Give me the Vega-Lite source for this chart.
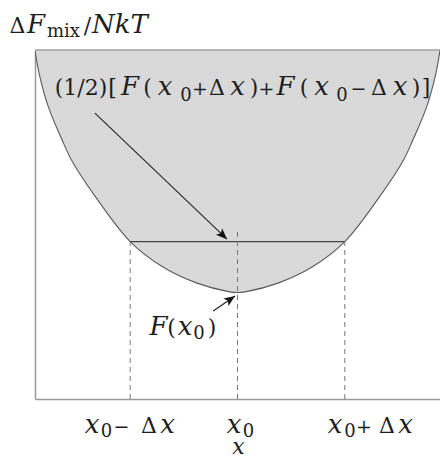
{
  "$schema": "https://vega.github.io/schema/vega-lite/v6.json",
  "width": 405,
  "height": 349,
  "autosize": "none",
  "padding": {"left": 35, "top": 50, "right": 0, "bottom": 61},
  "background": "white",
  "config": {
    "view": {"stroke": null},
    "font": "DejaVu Serif",
    "text": {"font": "DejaVu Serif", "color": "#1e1e1e", "align": "center", "baseline": "alphabetic"},
    "axis": {"ticks": false, "labels": false, "grid": false, "domainColor": "#9a9a9a", "domainWidth": 1.5}
  },
  "datasets": {
    "curve": [
      {"x": 0.000, "y": 1.000},
      {"x": 0.010, "y": 0.934},
      {"x": 0.033, "y": 0.837},
      {"x": 0.067, "y": 0.742},
      {"x": 0.090, "y": 0.685},
      {"x": 0.143, "y": 0.590},
      {"x": 0.235, "y": 0.451},
      {"x": 0.316, "y": 0.378},
      {"x": 0.400, "y": 0.332},
      {"x": 0.481, "y": 0.307},
      {"x": 0.500, "y": 0.305},
      {"x": 0.519, "y": 0.307},
      {"x": 0.600, "y": 0.332},
      {"x": 0.684, "y": 0.378},
      {"x": 0.765, "y": 0.451},
      {"x": 0.857, "y": 0.590},
      {"x": 0.910, "y": 0.685},
      {"x": 0.933, "y": 0.742},
      {"x": 0.967, "y": 0.837},
      {"x": 0.990, "y": 0.934},
      {"x": 1.000, "y": 1.000}
    ],
    "drops": [
      {"x": 0.235, "y": 0, "y2": 0.451},
      {"x": 0.500, "y": 0, "y2": 0.479},
      {"x": 0.765, "y": 0, "y2": 0.451}
    ],
    "arrows": [
      {"x": 0.148, "y": 0.819, "x2": 0.474, "y2": 0.458},
      {"x": 0.440, "y": 0.252, "x2": 0.494, "y2": 0.295}
    ],
    "italic": [
      {"x": 0.2346, "y": 0.8711, "t": "F"},
      {"x": 0.3210, "y": 0.8711, "t": "x"},
      {"x": 0.5000, "y": 0.8711, "t": "x"},
      {"x": 0.6185, "y": 0.8711, "t": "F"},
      {"x": 0.7074, "y": 0.8711, "t": "x"},
      {"x": 0.9012, "y": 0.8711, "t": "x"},
      {"x": 0.3049, "y": 0.1834, "t": "F"},
      {"x": 0.3704, "y": 0.1834, "t": "x"},
      {"x": 0.1407, "y": -0.0974, "t": "x"},
      {"x": 0.3272, "y": -0.0974, "t": "x"},
      {"x": 0.4914, "y": -0.0974, "t": "x"},
      {"x": 0.7407, "y": -0.0974, "t": "x"},
      {"x": 0.9148, "y": -0.0974, "t": "x"},
      {"x": 0.0025, "y": 1.0487, "t": "F"},
      {"x": 0.2099, "y": 1.0487, "t": "NkT"}
    ],
    "roman": [
      {"x": 0.1136, "y": 0.8711, "t": "(1/2)"},
      {"x": 0.1914, "y": 0.8711, "t": "["},
      {"x": 0.2778, "y": 0.8711, "t": "("},
      {"x": 0.4494, "y": 0.8711, "t": "Δ"},
      {"x": 0.5407, "y": 0.8711, "t": ")"},
      {"x": 0.6642, "y": 0.8711, "t": "("},
      {"x": 0.8494, "y": 0.8711, "t": "Δ"},
      {"x": 0.9407, "y": 0.8711, "t": ")"},
      {"x": 0.9654, "y": 0.8711, "t": "]"},
      {"x": 0.3370, "y": 0.1834, "t": "("},
      {"x": 0.4370, "y": 0.1834, "t": ")"},
      {"x": 0.2815, "y": -0.0974, "t": "Δ"},
      {"x": 0.8691, "y": -0.0974, "t": "Δ"},
      {"x": -0.0432, "y": 1.0487, "t": "Δ"},
      {"x": 0.1296, "y": 1.0487, "t": "/"}
    ],
    "operators": [
      {"x": 0.4074, "y": 0.8711, "t": "+"},
      {"x": 0.5716, "y": 0.8711, "t": "+"},
      {"x": 0.7988, "y": 0.8711, "t": "−"},
      {"x": 0.2136, "y": -0.0974, "t": "−"},
      {"x": 0.8123, "y": -0.0974, "t": "+"}
    ],
    "subscripts": [
      {"x": 0.3728, "y": 0.8539, "t": "0"},
      {"x": 0.7580, "y": 0.8539, "t": "0"},
      {"x": 0.4049, "y": 0.1719, "t": "0"},
      {"x": 0.1765, "y": -0.1089, "t": "0"},
      {"x": 0.5272, "y": -0.1089, "t": "0"},
      {"x": 0.7778, "y": -0.1089, "t": "0"},
      {"x": 0.0704, "y": 1.0372, "t": "mix"}
    ]
  },
  "encoding": {
    "x": {"field": "x", "type": "quantitative", "title": null,
          "scale": {"domain": [0, 1], "nice": false, "zero": false}},
    "y": {"field": "y", "type": "quantitative", "title": null,
          "scale": {"domain": [0, 1], "nice": false, "zero": false}}
  },
  "layer": [
    {
      "data": {"name": "curve"},
      "mark": {"type": "area", "interpolate": "catmull-rom", "color": "#d9d9d9", "clip": true},
      "encoding": {"y2": {"datum": 1}}
    },
    {
      "data": {"name": "curve"},
      "mark": {"type": "line", "interpolate": "catmull-rom", "color": "#5a5a5a", "strokeWidth": 1.1, "clip": true},
      "encoding": {}
    },
    {
      "data": {"values": [{"x": 0, "x2": 1, "y": 1}]},
      "mark": {"type": "rule", "color": "#a0a0a0", "strokeWidth": 1.5},
      "encoding": {"x2": {"field": "x2"}}
    },
    {
      "data": {"values": [{"x": 0.235, "x2": 0.765, "y": 0.451}]},
      "mark": {"type": "rule", "color": "#444444", "strokeWidth": 1.2},
      "encoding": {"x2": {"field": "x2"}}
    },
    {
      "data": {"name": "drops"},
      "mark": {"type": "rule", "color": "#777777", "strokeWidth": 1, "strokeDash": [5, 4]},
      "encoding": {"y2": {"field": "y2"}}
    },
    {
      "data": {"name": "arrows"},
      "mark": {"type": "rule", "color": "#222222", "strokeWidth": 1.1},
      "encoding": {"x2": {"field": "x2"}, "y2": {"field": "y2"}}
    },
    {
      "data": {"values": [{"x": 0.474, "y": 0.458}]},
      "mark": {"type": "point", "shape": "M0,0L0.45,1.1L0,0.85L-0.45,1.1Z", "angle": 134,
               "size": 400, "filled": true, "color": "#111111", "opacity": 1},
      "encoding": {}
    },
    {
      "data": {"values": [{"x": 0.494, "y": 0.295}]},
      "mark": {"type": "point", "shape": "M0,0L0.45,1.1L0,0.85L-0.45,1.1Z", "angle": 56,
               "size": 400, "filled": true, "color": "#111111", "opacity": 1},
      "encoding": {}
    },
    {
      "data": {"name": "italic"},
      "mark": {"type": "text", "fontSize": 26, "fontStyle": "italic"},
      "encoding": {"text": {"field": "t"}}
    },
    {
      "data": {"values": [{"x": 0.5025, "y": -0.1576, "t": "x"}]},
      "mark": {"type": "text", "fontSize": 22, "fontStyle": "italic"},
      "encoding": {"text": {"field": "t"}}
    },
    {
      "data": {"name": "roman"},
      "mark": {"type": "text", "fontSize": 22},
      "encoding": {"text": {"field": "t"}}
    },
    {
      "data": {"name": "operators"},
      "mark": {"type": "text", "fontSize": 19},
      "encoding": {"text": {"field": "t"}}
    },
    {
      "data": {"name": "subscripts"},
      "mark": {"type": "text", "fontSize": 18},
      "encoding": {"text": {"field": "t"}}
    }
  ]
}
